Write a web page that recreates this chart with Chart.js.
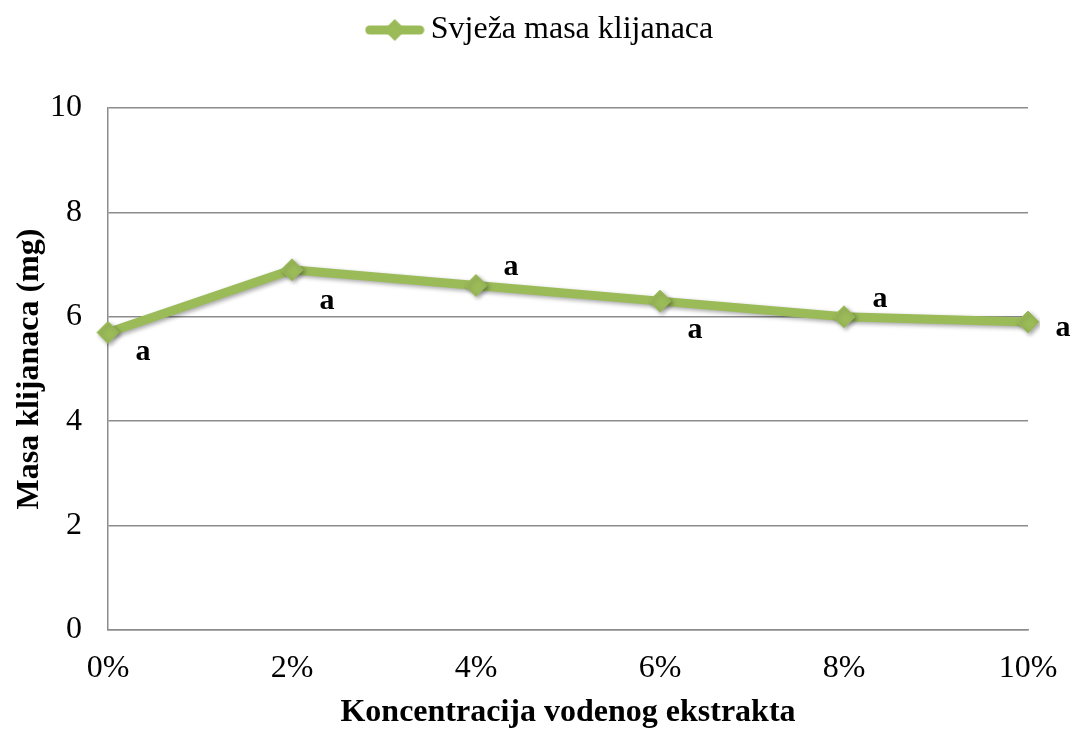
<!DOCTYPE html>
<html>
<head>
<meta charset="utf-8">
<script src="https://cdn.jsdelivr.net/npm/chart.js@4"></script>
<style>
  html, body { margin: 0; padding: 0; background: #fff; }
  #wrap { width: 1074px; height: 729px; }
</style>
</head>
<body>
<div id="wrap"><canvas id="masaChart" width="1074" height="729"></canvas></div>
<script>
const kategorije = ["0%", "2%", "4%", "6%", "8%", "10%"];
const svjezaMasa = [5.7, 6.9, 6.6, 6.3, 6.0, 5.9];
const oznake = ["a", "a", "a", "a", "a", "a"];
const yMin = 0, yMax = 10, yKorak = 2;

const zelena = "#9BBB59";
const siva = "#8c8c8c";
const font = "'Liberation Serif', 'Times New Roman', serif";

// pomak slova od točke (px)
const pomaci = [[35, 20], [35, 31], [35, -18], [35, 29], [36, -18], [35, 6]];

// legenda: linija s rombom kao u Excelu
function legendaIkona() {
    const c = document.createElement("canvas");
    c.width = 60; c.height = 24;
    const g = c.getContext("2d");
    g.strokeStyle = zelena;
    g.lineWidth = 9;
    g.lineCap = "round";
    g.beginPath();
    g.moveTo(5, 12); g.lineTo(55, 12);
    g.stroke();
    g.fillStyle = zelena;
    g.beginPath();
    g.moveTo(30, 1); g.lineTo(41, 12); g.lineTo(30, 23); g.lineTo(19, 12);
    g.closePath();
    g.fill();
    return c;
}
const ikona = legendaIkona();

// razmak ispod legende i pomak legende udesno
const razmak = {
    id: "razmak",
    beforeUpdate(chart) {
        const lg = chart.legend;
        if (lg && !lg._razmak) {
            const fit = lg.fit.bind(lg);
            lg.fit = function () { fit(); this.height += 52; };
            lg._razmak = true;
        }
    },
    afterLayout(chart) {
        const lg = chart.legend;
        lg.left += 30;
        lg.right += 30;
    }
};

const sjena = {
    id: "sjena",
    beforeDatasetsDraw(chart) {
        const ctx = chart.ctx;
        ctx.save();
        ctx.shadowColor = "rgba(0,0,0,0.35)";
        ctx.shadowBlur = 4;
        ctx.shadowOffsetX = 2;
        ctx.shadowOffsetY = 2;
    },
    afterDatasetsDraw(chart) {
        chart.ctx.restore();
    }
};

const slova = {
    id: "slova",
    afterDatasetsDraw(chart) {
        const ctx = chart.ctx;
        const meta = chart.getDatasetMeta(0);
        ctx.save();
        ctx.font = "bold 30px " + font;
        ctx.fillStyle = "#000";
        ctx.textAlign = "center";
        ctx.textBaseline = "middle";
        meta.data.forEach((p, i) => {
            ctx.fillText(oznake[i], p.x + pomaci[i][0], p.y + pomaci[i][1]);
        });
        ctx.restore();
    }
};

new Chart(document.getElementById("masaChart"), {
    type: "line",
    data: {
        labels: kategorije,
        datasets: [{
            label: "Svježa masa klijanaca",
            data: svjezaMasa,
            borderColor: zelena,
            backgroundColor: zelena,
            borderWidth: 9,
            pointStyle: "rectRot",
            pointRadius: 11,
            pointHoverRadius: 11,
            pointBackgroundColor: zelena,
            pointBorderColor: zelena,
            pointBorderWidth: 1,
            tension: 0
        }]
    },
    options: {
        responsive: false,
        animation: false,
        layout: { padding: { left: 0, right: 46, top: 8, bottom: 0 } },
        plugins: {
            legend: {
                position: "top",
                labels: {
                    usePointStyle: true,
                    pointStyle: ikona,
                    pointStyleWidth: 40,
                    color: "#000",
                    font: { family: font, size: 32 },
                    padding: 6,
                    generateLabels: chart => [{
                        text: chart.data.datasets[0].label,
                        pointStyle: ikona,
                        fillStyle: zelena,
                        strokeStyle: zelena,
                        lineWidth: 0,
                        datasetIndex: 0
                    }]
                }
            },
            tooltip: { enabled: false }
        },
        scales: {
            x: {
                offset: false,
                grid: { display: false },
                border: { display: true, color: siva, width: 1.5 },
                ticks: {
                    color: "#000",
                    font: { family: font, size: 32 },
                    padding: 11,
                    maxRotation: 0
                },
                title: {
                    display: true,
                    text: "Koncentracija vodenog ekstrakta",
                    color: "#000",
                    font: { family: font, size: 32, weight: "bold" },
                    padding: { top: 0, bottom: -3 }
                },
                afterFit: s => { s.height = 99; }
            },
            y: {
                min: yMin,
                max: yMax,
                ticks: {
                    stepSize: yKorak,
                    color: "#000",
                    font: { family: font, size: 32 },
                    padding: 26
                },
                grid: { color: siva, lineWidth: 1.5, drawTicks: false },
                border: { display: true, color: siva, width: 1.5 },
                title: {
                    display: true,
                    text: "Masa klijanaca (mg)",
                    color: "#000",
                    font: { family: font, size: 32, weight: "bold" },
                    padding: { top: 11, bottom: 0 }
                },
                afterFit: s => { s.width = 108; }
            }
        }
    },
    plugins: [razmak, sjena, slova]
});
</script>
</body>
</html>
